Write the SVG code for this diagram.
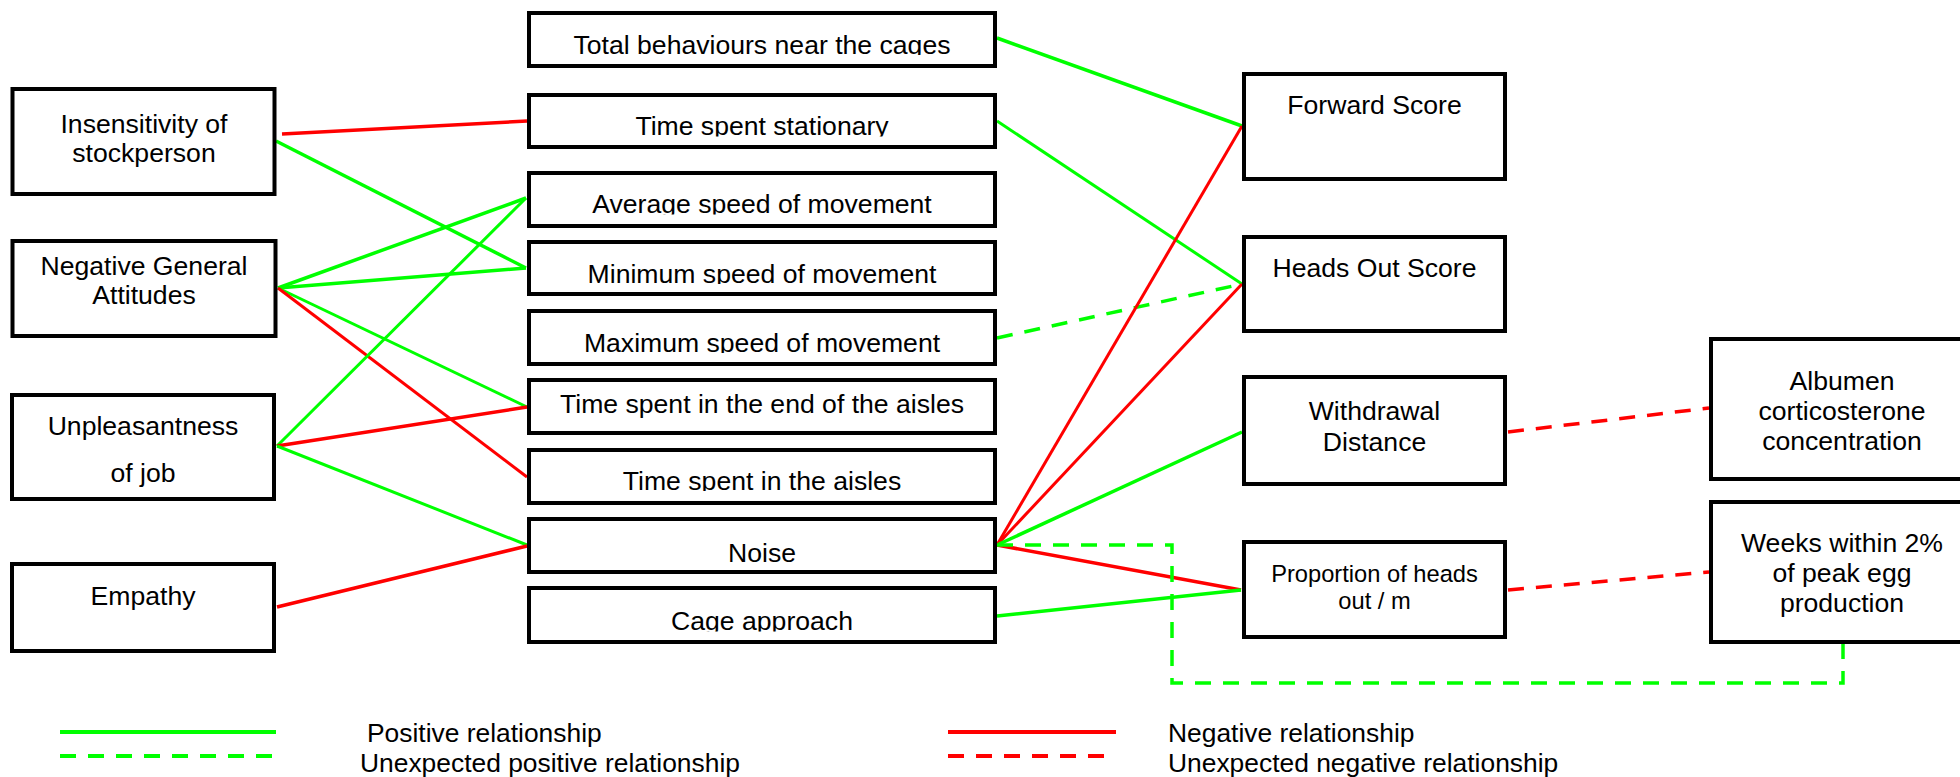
<svg xmlns="http://www.w3.org/2000/svg" width="1960" height="777" viewBox="0 0 1960 777">
<style>
.box{fill:#fff;stroke:#000;stroke-width:4}
.t{font-family:"Liberation Sans",Arial,sans-serif;font-size:26.6px;fill:#000;text-anchor:middle}
.ts{font-size:23.7px}
.tl{font-family:"Liberation Sans",Arial,sans-serif;font-size:26.4px;fill:#000}
.pos{stroke:#00ff00;stroke-width:3.5;fill:none}
.neg{stroke:#ff0000;stroke-width:3.5;fill:none}
.thin{stroke-width:3}
.dash{stroke-dasharray:16 12}
</style>
<defs>
<clipPath id="c1" clipPathUnits="userSpaceOnUse"><rect x="527" y="11" width="470" height="44"/></clipPath>
<clipPath id="c2" clipPathUnits="userSpaceOnUse"><rect x="527" y="93" width="470" height="43.5"/></clipPath>
<clipPath id="c3" clipPathUnits="userSpaceOnUse"><rect x="527" y="171" width="470" height="43.5"/></clipPath>
<clipPath id="c4" clipPathUnits="userSpaceOnUse"><rect x="527" y="240" width="470" height="44"/></clipPath>
<clipPath id="c5" clipPathUnits="userSpaceOnUse"><rect x="527" y="309" width="470" height="44"/></clipPath>
<clipPath id="c7" clipPathUnits="userSpaceOnUse"><rect x="527" y="448" width="470" height="43"/></clipPath>
<clipPath id="c9" clipPathUnits="userSpaceOnUse"><rect x="527" y="586" width="470" height="45.5"/></clipPath>
</defs>
<rect width="1960" height="777" fill="#fff"/>

<g id="connectors">
<line class="neg" x1="282" y1="134" x2="527" y2="121"/>
<line class="pos" x1="276" y1="141" x2="526" y2="268"/>
<line class="pos" x1="278" y1="288" x2="526" y2="198"/>
<line class="pos" x1="278" y1="288" x2="526" y2="268"/>
<line class="pos thin" x1="278" y1="288" x2="527" y2="407"/>
<line class="neg thin" x1="278" y1="288" x2="527" y2="477"/>
<line class="pos thin" x1="277" y1="446" x2="526" y2="198"/>
<line class="neg" x1="277" y1="446" x2="527" y2="407"/>
<line class="pos thin" x1="277" y1="446" x2="527" y2="545"/>
<line class="neg" x1="277" y1="607" x2="527" y2="546"/>
<line class="pos" x1="997" y1="38" x2="1242" y2="126"/>
<line class="pos thin" x1="997" y1="121" x2="1242" y2="284"/>
<line class="pos dash" x1="997" y1="338" x2="1242" y2="284"/>
<line class="neg thin" x1="997" y1="545" x2="1242" y2="126"/>
<line class="neg thin" x1="997" y1="545" x2="1242" y2="284"/>
<line class="pos" x1="997" y1="545" x2="1242" y2="432"/>
<line class="neg" x1="997" y1="545" x2="1241" y2="590"/>
<polyline class="pos dash" points="997,545 1172,545 1172,683 1843,683 1843,644"/>
<line class="pos" x1="997" y1="616" x2="1241" y2="590"/>
<line class="neg dash" x1="1508" y1="432" x2="1709" y2="408"/>
<line class="neg dash" x1="1508" y1="590" x2="1709" y2="572"/>
</g>

<g id="n-insensitivity"><rect class="box" x="12.5" y="89" width="262" height="105"/>
<text class="t" x="144" y="133">Insensitivity of</text><text class="t" x="144" y="162">stockperson</text></g>
<g id="n-attitudes"><rect class="box" x="12.5" y="241" width="263" height="95"/>
<text class="t" x="144" y="275">Negative General</text><text class="t" x="144" y="304">Attitudes</text></g>
<g id="n-unpleasantness"><rect class="box" x="12" y="395" width="262" height="104"/>
<text class="t" x="143" y="435">Unpleasantness</text><text class="t" x="143" y="482">of job</text></g>
<g id="n-empathy"><rect class="box" x="12" y="564" width="262" height="87"/>
<text class="t" x="143" y="605">Empathy</text></g>

<g id="n-total"><rect class="box" x="529" y="13" width="466" height="53"/>
<text class="t" x="762" y="53.5" clip-path="url(#c1)">Total behaviours near the cages</text></g>
<g id="n-stationary"><rect class="box" x="529" y="95" width="466" height="52"/>
<text class="t" x="762" y="135" clip-path="url(#c2)">Time spent stationary</text></g>
<g id="n-average"><rect class="box" x="529" y="173" width="466" height="53"/>
<text class="t" x="762" y="213" clip-path="url(#c3)">Average speed of movement</text></g>
<g id="n-minimum"><rect class="box" x="529" y="242" width="466" height="52"/>
<text class="t" x="762" y="282.5" clip-path="url(#c4)">Minimum speed of movement</text></g>
<g id="n-maximum"><rect class="box" x="529" y="311" width="466" height="53"/>
<text class="t" x="762" y="351.5" clip-path="url(#c5)">Maximum speed of movement</text></g>
<g id="n-endaisles"><rect class="box" x="529" y="380" width="466" height="53"/>
<text class="t" x="762" y="413.3">Time spent in the end of the aisles</text></g>
<g id="n-aisles"><rect class="box" x="529" y="450" width="466" height="53"/>
<text class="t" x="762" y="490" clip-path="url(#c7)">Time spent in the aisles</text></g>
<g id="n-noise"><rect class="box" x="529" y="519" width="466" height="53"/>
<text class="t" x="762" y="561.5">Noise</text></g>
<g id="n-cage"><rect class="box" x="529" y="588" width="466" height="54"/>
<text class="t" x="762" y="630" clip-path="url(#c9)">Cage approach</text></g>

<g id="n-forward"><rect class="box" x="1244" y="74" width="261" height="105"/>
<text class="t" x="1374.5" y="114">Forward Score</text></g>
<g id="n-headsout"><rect class="box" x="1244" y="237" width="261" height="94"/>
<text class="t" x="1374.5" y="277">Heads Out Score</text></g>
<g id="n-withdrawal"><rect class="box" x="1244" y="377" width="261" height="107"/>
<text class="t" x="1374.5" y="420">Withdrawal</text><text class="t" x="1374.5" y="451">Distance</text></g>
<g id="n-proportion"><rect class="box" x="1244" y="542" width="261" height="95"/>
<text class="t ts" x="1374.5" y="582">Proportion of heads</text><text class="t ts" x="1374.5" y="609">out / m</text></g>
<g id="n-albumen"><rect class="box" x="1711" y="339" width="265" height="140"/>
<text class="t" x="1842" y="390">Albumen</text><text class="t" x="1842" y="420">corticosterone</text><text class="t" x="1842" y="450">concentration</text></g>
<g id="n-weeks"><rect class="box" x="1711" y="502" width="265" height="140"/>
<text class="t" x="1842" y="552">Weeks within 2%</text><text class="t" x="1842" y="582">of peak egg</text><text class="t" x="1842" y="612">production</text></g>

<g id="legend">
<line class="pos" x1="60" y1="732" x2="276" y2="732" style="stroke-width:4"/>
<line class="pos dash" x1="60" y1="756" x2="272" y2="756" style="stroke-width:4"/>
<text class="tl" x="367" y="742">Positive relationship</text>
<text class="tl" x="360" y="772">Unexpected positive relationship</text>
<line class="neg" x1="948" y1="732" x2="1116" y2="732" style="stroke-width:4"/>
<line class="neg dash" x1="948" y1="756" x2="1104" y2="756" style="stroke-width:4"/>
<text class="tl" x="1168" y="742">Negative relationship</text>
<text class="tl" x="1168" y="772">Unexpected negative relationship</text>
</g>
</svg>
